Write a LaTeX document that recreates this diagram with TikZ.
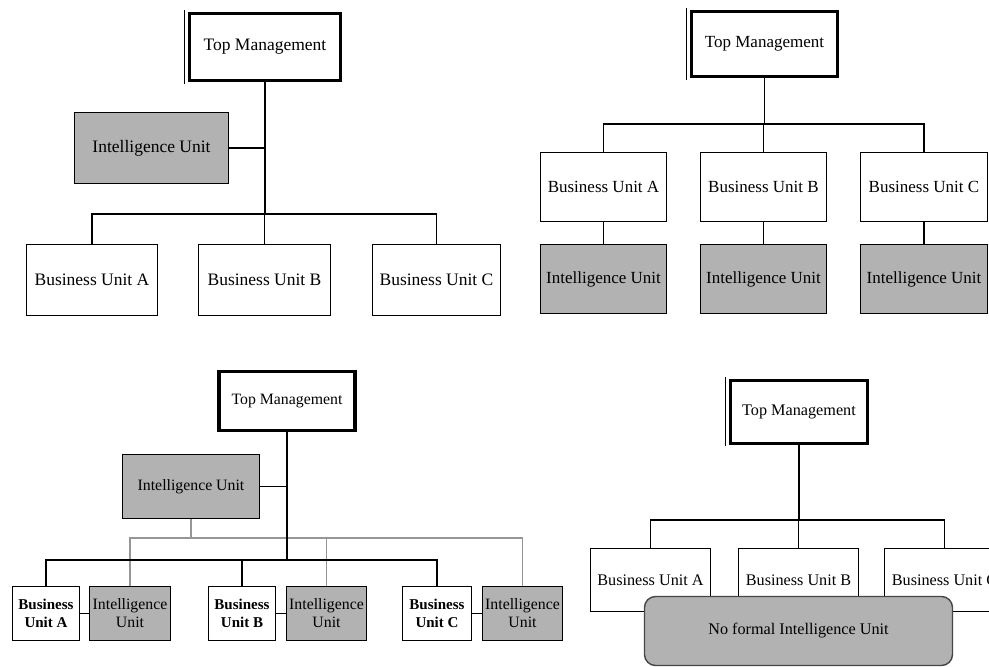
\documentclass[tikz,border=0pt]{standalone}
\usepackage{fontspec}
\setmainfont{Liberation Serif}
\definecolor{iugray}{RGB}{178,178,178}
\definecolor{linkgray}{RGB}{150,150,150}
\definecolor{rimgray}{RGB}{70,70,70}
\begin{document}
\begin{tikzpicture}[x=1pt,y=-1pt,
  box/.style={draw=black, line width=1.6pt, fill=white, inner sep=0pt, align=center},
  intel/.style={box, fill=iugray},
  topbox/.style={draw=black, line width=3.2pt, fill=white, inner sep=0pt, align=center},
  link/.style={draw=black, line width=1.5pt},
  glink/.style={draw=linkgray, line width=1.4pt},
  thinrule/.style={draw=black, line width=0.9pt},
  fA/.style={font=\fontsize{17.5}{20}\selectfont},
  fB/.style={font=\fontsize{17}{20}\selectfont},
  fC/.style={font=\fontsize{15.8}{18}\selectfont},
  fCb/.style={font=\fontsize{15}{18}\selectfont\bfseries},
  fD/.style={font=\fontsize{16.2}{19}\selectfont}]
\clip (0,0) rectangle (989,667);
\fill[white] (0,0) rectangle (989,667);

% ---------- central unit reporting to top management ----------
\node[topbox, fA, minimum width=151pt, minimum height=67pt] (tm1) at (265,47) {Top Management};
\draw[thinrule] ([xshift=-3pt,yshift=1.6pt]tm1.north west) -- ([xshift=-3pt,yshift=-1.6pt]tm1.south west);
\node[intel, fA, minimum width=154pt, minimum height=71pt] (iu1) at (151.5,148) {Intelligence Unit};
\node[box, fA, minimum width=131pt, minimum height=71pt] (buA1) at (92,280) {Business Unit A};
\node[box, fA, minimum width=132pt, minimum height=71pt] (buB1) at (264.5,280) {Business Unit B};
\node[box, fA, minimum width=128pt, minimum height=71pt] (buC1) at (436.5,280) {Business Unit C};
\coordinate (j1) at (tm1.south |- 0,214);
\draw[link] (tm1.south) -- (j1);
\draw[link] (iu1.east) -- (iu1.east -| tm1.south);
\draw[link] (buA1.north) |- (j1) -| (buC1.north);
\draw[link] (buB1.north) -- (buB1.north |- j1);

% ---------- one unit inside each business unit ----------
\node[topbox, fB, minimum width=146pt, minimum height=65pt] (tm2) at (764.5,44) {Top Management};
\draw[thinrule] ([xshift=-3pt,yshift=1.6pt]tm2.north west) -- ([xshift=-3pt,yshift=-1.6pt]tm2.south west);
\node[box, fB, minimum width=126pt, minimum height=69pt] (buA2) at (603.5,187) {Business Unit A};
\node[box, fB, minimum width=126pt, minimum height=69pt] (buB2) at (763.5,187) {Business Unit B};
\node[box, fB, minimum width=127pt, minimum height=69pt] (buC2) at (924,187) {Business Unit C};
\node[intel, fB, minimum width=126pt, minimum height=69pt] (iuA2) at (603.5,279) {Intelligence Unit};
\node[intel, fB, minimum width=126pt, minimum height=69pt] (iuB2) at (763.5,279) {Intelligence Unit};
\node[intel, fB, minimum width=127pt, minimum height=69pt] (iuC2) at (924,279) {Intelligence Unit};
\coordinate (j2) at (tm2.south |- 0,124);
\draw[link] (tm2.south) -- (j2);
\draw[link] (buA2.north) |- (j2) -| (buC2.north);
\draw[link] (buB2.north) -- (buB2.north |- j2);
\draw[link] (buA2.south) -- (iuA2.north);
\draw[link] (buB2.south) -- (iuB2.north);
\draw[link] (buC2.south) -- (iuC2.north);

% ---------- central unit plus local units ----------
\node[topbox, fC, minimum width=136pt, minimum height=59pt] (tm3) at (287,401.2) {Top Management};
\node[intel, fC, minimum width=137pt, minimum height=64pt] (iu3) at (191,486.5) {Intelligence Unit};
\node[box, fCb, minimum width=67pt, minimum height=54pt] (buA3) at (46,613.5) {Business\\Unit A};
\node[intel, fC, minimum width=81pt, minimum height=54pt] (iuA3) at (130,613.5) {Intelligence\\Unit};
\node[box, fCb, minimum width=67pt, minimum height=54pt] (buB3) at (242,613.5) {Business\\Unit B};
\node[intel, fC, minimum width=80pt, minimum height=54pt] (iuB3) at (326.5,613.5) {Intelligence\\Unit};
\node[box, fCb, minimum width=69pt, minimum height=54pt] (buC3) at (437,613.5) {Business\\Unit C};
\node[intel, fC, minimum width=80pt, minimum height=54pt] (iuC3) at (522.5,613.5) {Intelligence\\Unit};
\coordinate (g3) at (iu3.south |- 0,538);
\draw[glink] (iu3.south) -- (g3);
\draw[glink] (iuA3.north) |- (g3) -| (iuC3.north);
\draw[glink] (iuB3.north) -- (iuB3.north |- g3);
\coordinate (j3) at (tm3.south |- 0,560);
\draw[link] (tm3.south) -- (j3);
\draw[link] (iu3.east) -- (iu3.east -| tm3.south);
\draw[link] (buA3.north) |- (j3) -| (buC3.north);
\draw[link] (buB3.north) -- (buB3.north |- j3);
\draw[link] (buA3.east) -- (iuA3.west);
\draw[link] (buB3.east) -- (iuB3.west);
\draw[link] (buC3.east) -- (iuC3.west);

% ---------- no formal unit ----------
\node[topbox, fD, minimum width=137pt, minimum height=63pt] (tm4) at (799,411.7) {Top Management};
\draw[thinrule] ([xshift=-3pt,yshift=1.6pt]tm4.north west) -- ([xshift=-3pt,yshift=-1.6pt]tm4.south west);
\node[box, fD, minimum width=120pt, minimum height=63pt] (buA4) at (650.5,580) {Business Unit A};
\node[box, fD, minimum width=120pt, minimum height=63pt] (buB4) at (798.5,580) {Business Unit B};
\node[box, fD, minimum width=120pt, minimum height=63pt] (buC4) at (944.5,580) {Business Unit C};
\coordinate (j4) at (tm4.south |- 0,520);
\draw[link] (tm4.south) -- (j4);
\draw[link] (buA4.north) |- (j4) -| (buC4.north);
\draw[link] (buB4.north) -- (buB4.north |- j4);
\node[draw=rimgray, line width=1.4pt, fill=iugray, rounded corners=11pt, inner sep=0pt,
      fD, minimum width=308pt, minimum height=69pt] (none4) at (798.5,631) {No formal Intelligence Unit};
\end{tikzpicture}
\end{document}
